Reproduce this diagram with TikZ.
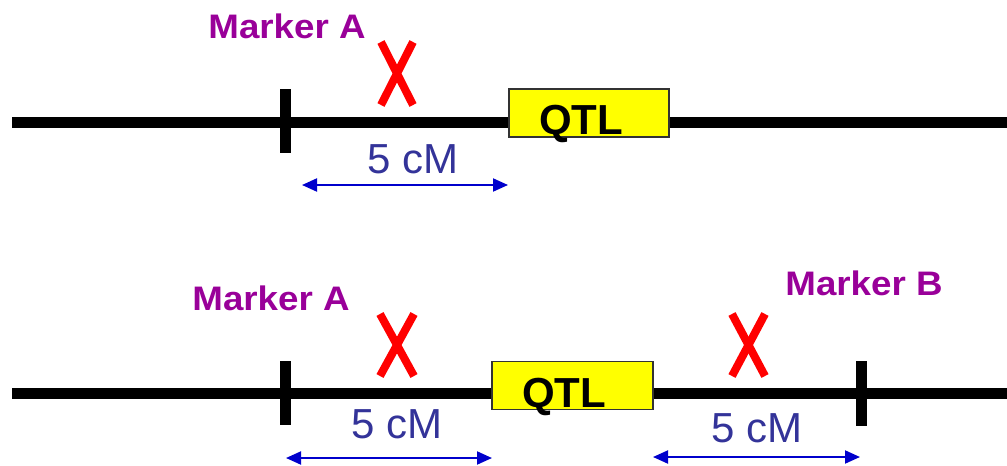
\documentclass[tikz,border=0pt]{standalone}
\usepackage{fontspec}
\setmainfont{Liberation Sans}
\usetikzlibrary{arrows.meta}
\definecolor{markerpurple}{HTML}{990099}
\definecolor{distblue}{HTML}{333399}
\definecolor{arrowblue}{HTML}{0000CC}
\definecolor{qtlyellow}{HTML}{FFFF00}
\definecolor{crossred}{HTML}{FF0000}
\newcommand{\mklabel}[1]{\scalebox{1.08}[1]{#1}}
\tikzset{
  chrom/.style={line width=11pt, black},
  tick/.style={line width=11pt, black},
  qtlbox/.style={draw=black!80, line width=1.6pt, fill=qtlyellow, minimum width=#1, minimum height=48pt, inner sep=0pt},
  qtltext/.style={font=\fontsize{42}{42}\selectfont\bfseries, anchor=base, inner sep=0pt},
  markerlabel/.style={font=\fontsize{34}{34}\selectfont\bfseries, text=markerpurple, anchor=base, inner sep=0pt},
  distlabel/.style={font=\fontsize{42}{42}\selectfont, text=distblue, anchor=base, inner sep=0pt},
  span/.style={line width=2pt, arrowblue, {Triangle[length=15pt,width=13pt]}-{Triangle[length=15pt,width=13pt]}},
  cross/.style={line width=8pt, crossred},
}
\begin{document}
\begin{tikzpicture}[x=1pt, y=-1pt]
\useasboundingbox (0,0) rectangle (1007,466);

% ---------- upper chromosome: one flanking marker ----------
\coordinate (t-left) at (12,122);
\coordinate (t-right) at (1007,122);
\node[qtlbox=160pt] (t-qtl) at (589,113) {};
\draw[chrom] (t-left) -- (t-qtl.west |- t-left);
\draw[chrom] (t-qtl.east |- t-right) -- (t-right);
\node[qtltext] (t-qtltext) at (581,134) {QTL};

\coordinate (t-ma-top) at (285,89);
\coordinate (t-ma-bot) at (285,153);
\draw[tick] (t-ma-top) -- (t-ma-bot);
\node[markerlabel] (t-ma-label) at (287,38) {\mklabel{Marker A}};

\coordinate (t-x1a) at (381,42);
\coordinate (t-x1b) at (413,105);
\coordinate (t-x2a) at (413,42);
\coordinate (t-x2b) at (381,105);
\draw[cross] (t-x1a) -- (t-x1b);
\draw[cross] (t-x2a) -- (t-x2b);

\node[distlabel] (t-dist) at (413,173) {5 cM};
\coordinate (t-span-l) at (302,185);
\coordinate (t-span-r) at (508,185);
\draw[span] (t-span-l) -- (t-span-r);

% ---------- lower chromosome: two flanking markers ----------
\coordinate (b-left) at (12,393);
\coordinate (b-right) at (1007,393);
\node[qtlbox=161pt] (b-qtl) at (572.5,385.5) {};
\draw[chrom] (b-left) -- (b-qtl.west |- b-left);
\draw[chrom] (b-qtl.east |- b-right) -- (b-right);
\node[qtltext] (b-qtltext) at (564,407) {QTL};

\coordinate (b-ma-top) at (285,361);
\coordinate (b-ma-bot) at (285,425);
\draw[tick] (b-ma-top) -- (b-ma-bot);
\node[markerlabel] (b-ma-label) at (271,310) {\mklabel{Marker A}};

\coordinate (b-mb-top) at (861,361);
\coordinate (b-mb-bot) at (861,426);
\draw[tick] (b-mb-top) -- (b-mb-bot);
\node[markerlabel] (b-mb-label) at (864,295) {\mklabel{Marker B}};

\coordinate (b-x1a) at (380,314);
\coordinate (b-x1b) at (414,376);
\coordinate (b-x2a) at (414,314);
\coordinate (b-x2b) at (380,376);
\draw[cross] (b-x1a) -- (b-x1b);
\draw[cross] (b-x2a) -- (b-x2b);

\coordinate (b-x3a) at (732,314);
\coordinate (b-x3b) at (765,376);
\coordinate (b-x4a) at (765,314);
\coordinate (b-x4b) at (732,376);
\draw[cross] (b-x3a) -- (b-x3b);
\draw[cross] (b-x4a) -- (b-x4b);

\node[distlabel] (b-dist-l) at (397,438) {5 cM};
\coordinate (b-span1-l) at (286,458);
\coordinate (b-span1-r) at (492,458);
\draw[span] (b-span1-l) -- (b-span1-r);

\node[distlabel] (b-dist-r) at (757,442) {5 cM};
\coordinate (b-span2-l) at (653,457);
\coordinate (b-span2-r) at (860,457);
\draw[span] (b-span2-l) -- (b-span2-r);
\end{tikzpicture}
\end{document}
